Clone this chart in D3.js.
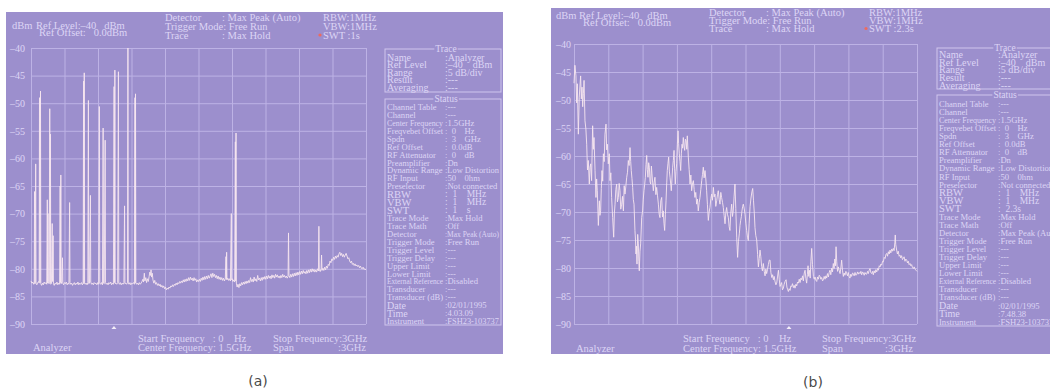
<!DOCTYPE html>
<html><head><meta charset="utf-8">
<script src="https://cdn.jsdelivr.net/npm/d3@7"></script>
<style>
html,body{margin:0;padding:0;background:#fff;}
svg{display:block;}
text{font-family:"Liberation Serif","Times New Roman",serif;white-space:pre;}
</style></head><body>
<svg id="c" width="1050" height="392"></svg>
<script>
// ---------------- DATA ----------------
const yTicks = [-40,-45,-50,-55,-60,-65,-70,-75,-80,-85,-90];
const yTickLabels = ["\u201340","\u201345","\u201350","\u201355","\u201360","\u201365","\u201370","\u201375","\u201380","\u201385","\u201390"];
const xGridMHz = [0,300,600,900,1200,1500,1800,2100,2400,2700,3000];

// trace (a): [frequency MHz, level dBm]
const traceA = [[0,-82.2],[8,-82.6],[16,-82.4],[24,-82.8],[29,-82.5],[32,-66],[35,-82.7],[38,-82.4],[42,-61],[45,-82.6],[52,-82.9],[60,-82.5],[68,-82.3],[73,-82.6],[76,-49],[79,-82.4],[82,-82.5],[85,-47.8],[88,-82.7],[95,-83.0],[103,-82.6],[110,-82.9],[118,-82.4],[126,-82.7],[134,-82.5],[141,-82.8],[146,-67.5],[149,-82.6],[152,-70],[155,-82.3],[162,-82.7],[168,-51],[171,-82.5],[174,-55.6],[177,-82.8],[183,-82.6],[190,-71.8],[193,-82.3],[198,-74],[201,-82.7],[208,-83.0],[216,-82.6],[224,-82.8],[232,-82.4],[240,-82.9],[248,-82.6],[256,-82.8],[261,-65],[264,-82.5],[267,-63],[270,-82.7],[276,-82.3],[282,-78],[285,-82.6],[292,-82.9],[300,-82.5],[308,-82.7],[316,-82.4],[324,-82.9],[332,-82.6],[340,-82.8],[346,-68],[349,-82.5],[356,-82.8],[364,-82.6],[372,-83.0],[380,-82.7],[388,-82.5],[396,-82.9],[404,-82.6],[412,-82.8],[420,-82.4],[428,-82.9],[436,-82.6],[444,-82.8],[452,-82.5],[460,-82.9],[467,-82.6],[471,-46],[474,-82.7],[477,-44.5],[480,-82.5],[486,-82.8],[494,-82.6],[502,-82.9],[509,-82.5],[514,-49.5],[517,-82.7],[524,-82.6],[532,-66.7],[535,-82.4],[542,-82.8],[550,-82.6],[558,-82.9],[566,-82.5],[574,-82.7],[582,-82.6],[590,-82.9],[598,-82.5],[606,-82.8],[612,-50.6],[616,-82.6],[624,-82.8],[632,-82.5],[640,-82.9],[646,-54.5],[649,-82.6],[656,-82.7],[664,-56.7],[667,-82.5],[674,-82.8],[682,-82.6],[690,-82.9],[698,-82.5],[706,-82.7],[714,-82.4],[722,-82.9],[730,-82.6],[738,-82.8],[744,-47],[747,-82.5],[751,-44],[754,-82.7],[760,-82.6],[768,-82.8],[776,-82.5],[783,-44.3],[786,-82.6],[792,-82.8],[800,-82.5],[808,-82.9],[816,-82.6],[824,-82.8],[832,-82.5],[838,-68.6],[841,-82.7],[848,-82.6],[856,-82.8],[864,-82.5],[868,-40],[871,-82.6],[878,-82.8],[886,-82.5],[894,-82.9],[902,-82.6],[910,-82.7],[918,-82.5],[926,-82.8],[931,-49],[933,-82.6],[936,-48.3],[939,-82.5],[946,-82.8],[954,-82.6],[962,-82.9],[970,-82.5],[978,-82.8],[986,-82.6],[994,-82.3],[1002,-81.9],[1008,-82.4],[1015,-80.8],[1020,-82.2],[1028,-81.6],[1035,-82.5],[1042,-81.8],[1050,-82.3],[1058,-81.4],[1064,-80.6],[1070,-81.2],[1075,-80.2],[1080,-81.5],[1086,-80.8],[1092,-82.0],[1100,-82.6],[1108,-82.1],[1116,-82.8],[1124,-82.5],[1132,-83.0],[1140,-82.7],[1148,-83.1],[1156,-82.8],[1164,-83.3],[1172,-83.0],[1180,-83.4],[1188,-83.1],[1196,-83.6],[1204,-83.3],[1212,-83.8],[1220,-83.5],[1228,-83.7],[1236,-83.3],[1244,-83.5],[1252,-83.1],[1260,-83.3],[1268,-82.9],[1276,-83.2],[1284,-82.8],[1292,-83.0],[1300,-82.6],[1308,-82.9],[1316,-82.5],[1324,-82.7],[1332,-82.3],[1340,-82.6],[1348,-82.2],[1356,-82.5],[1364,-82.0],[1372,-82.4],[1380,-81.9],[1388,-82.3],[1396,-81.8],[1404,-82.2],[1412,-81.6],[1420,-82.1],[1428,-81.5],[1436,-82.0],[1444,-81.7],[1452,-82.2],[1460,-81.6],[1468,-82.1],[1476,-81.8],[1484,-82.4],[1492,-82.0],[1500,-82.3],[1508,-81.9],[1516,-82.3],[1524,-81.7],[1532,-82.1],[1540,-81.5],[1548,-82.0],[1556,-81.4],[1564,-81.9],[1572,-81.3],[1580,-81.8],[1588,-81.2],[1596,-81.7],[1604,-81.3],[1612,-80.9],[1620,-81.6],[1628,-80.8],[1636,-81.4],[1644,-81.0],[1652,-81.6],[1660,-81.2],[1668,-81.8],[1676,-81.3],[1684,-81.9],[1692,-81.5],[1700,-82.0],[1708,-81.6],[1716,-82.1],[1724,-81.7],[1732,-82.2],[1740,-81.8],[1746,-77.8],[1749,-81.9],[1752,-77],[1755,-82.0],[1762,-81.7],[1770,-82.1],[1778,-81.8],[1786,-82.2],[1794,-70],[1797,-82.0],[1802,-81.8],[1808,-82.3],[1816,-82.0],[1824,-82.4],[1830,-57],[1833,-82.2],[1836,-55.4],[1839,-82.6],[1846,-83.3],[1854,-82.8],[1862,-83.4],[1870,-82.7],[1878,-83.1],[1886,-82.5],[1894,-82.9],[1902,-82.4],[1910,-82.8],[1918,-82.3],[1926,-82.7],[1934,-82.2],[1942,-82.6],[1950,-82.1],[1958,-82.5],[1966,-81.6],[1974,-82.3],[1982,-81.9],[1990,-82.4],[1998,-81.5],[2006,-82.2],[2014,-81.8],[2022,-82.3],[2030,-81.2],[2038,-82.0],[2046,-81.7],[2054,-82.2],[2062,-81.6],[2070,-82.1],[2078,-81.5],[2086,-81.9],[2094,-81.4],[2102,-81.9],[2110,-81.3],[2118,-81.8],[2126,-81.2],[2134,-81.7],[2142,-81.3],[2150,-81.8],[2158,-81.1],[2166,-81.6],[2174,-81.2],[2182,-81.7],[2190,-81.0],[2198,-81.5],[2206,-81.1],[2214,-81.6],[2222,-81.3],[2230,-81.7],[2238,-81.2],[2246,-81.6],[2254,-81.0],[2262,-81.5],[2270,-81.2],[2278,-81.6],[2286,-81.3],[2294,-81.7],[2302,-81.4],[2306,-73.5],[2310,-81.2],[2318,-81.6],[2326,-81.0],[2334,-81.5],[2342,-80.9],[2350,-81.4],[2358,-80.8],[2366,-81.3],[2374,-80.7],[2382,-81.2],[2390,-80.6],[2398,-81.1],[2406,-80.5],[2414,-81.0],[2422,-80.4],[2430,-80.9],[2438,-80.3],[2446,-80.8],[2454,-80.5],[2462,-80.9],[2470,-80.3],[2478,-80.8],[2486,-80.2],[2494,-80.7],[2502,-80.1],[2510,-80.6],[2518,-80.0],[2526,-80.5],[2534,-80.1],[2542,-80.6],[2550,-80.2],[2558,-80.6],[2566,-80.0],[2574,-80.4],[2578,-72.3],[2582,-80.2],[2590,-80.5],[2598,-80.0],[2602,-77.5],[2606,-80.3],[2614,-79.9],[2622,-80.3],[2630,-79.7],[2638,-80.2],[2646,-79.5],[2654,-79.9],[2662,-79.2],[2670,-79.4],[2678,-78.6],[2686,-78.9],[2694,-78.2],[2702,-78.5],[2710,-77.9],[2718,-78.3],[2726,-77.7],[2734,-78.1],[2742,-77.6],[2750,-77.9],[2758,-77.3],[2766,-77.0],[2774,-77.6],[2782,-77.2],[2790,-77.8],[2798,-77.4],[2806,-77.9],[2814,-77.5],[2822,-77.2],[2830,-77.7],[2838,-78.2],[2846,-78.0],[2854,-78.6],[2862,-78.9],[2870,-78.6],[2878,-79.2],[2886,-79.0],[2894,-79.4],[2902,-79.1],[2910,-79.5],[2918,-79.3],[2926,-79.6],[2934,-79.4],[2942,-79.8],[2950,-79.5],[2958,-79.9],[2966,-80.0],[2974,-79.7],[2982,-80.1],[2990,-80.0],[3000,-80.2]];

// trace (b): [frequency MHz, level dBm]
const traceB = [[0,-47.0],[8,-43.8],[17,-45.7],[23,-50.5],[29,-47.1],[38,-56.1],[46,-49.5],[52,-47.5],[58,-45.7],[64,-49.8],[70,-47.7],[76,-51.2],[82,-48.9],[88,-46.5],[96,-53.7],[104,-55.2],[111,-57.9],[118,-62.5],[125,-60.8],[134,-65.0],[140,-62.0],[146,-61.4],[154,-64.4],[163,-54.6],[169,-58.8],[175,-56.7],[184,-62.6],[192,-67.4],[198,-64.1],[204,-66.2],[213,-72.4],[222,-68.0],[227,-70.6],[233,-69.8],[239,-65.8],[245,-62.6],[251,-64.5],[257,-59.6],[264,-61.0],[271,-56.1],[280,-54.3],[286,-58.9],[292,-57.9],[300,-61.4],[309,-59.6],[315,-64.4],[322,-63.0],[329,-67.4],[338,-71.0],[347,-74.5],[353,-70.2],[359,-68.6],[366,-66.0],[373,-65.0],[380,-68.2],[388,-67.4],[395,-64.9],[402,-66.2],[409,-69.5],[417,-68.6],[424,-67.2],[432,-69.8],[439,-65.3],[446,-66.8],[453,-65.5],[461,-63.8],[468,-62.9],[475,-60.8],[482,-61.7],[490,-58.5],[496,-61.0],[501,-62.6],[507,-64.0],[513,-65.6],[519,-67.8],[525,-68.6],[533,-73.3],[538,-75.0],[542,-77.5],[546,-76.1],[551,-79.3],[557,-74.0],[563,-75.7],[567,-78.8],[571,-80.5],[577,-77.0],[583,-75.7],[588,-73.2],[592,-71.0],[600,-69.8],[606,-67.7],[612,-66.2],[618,-65.1],[624,-63.8],[630,-61.5],[636,-59.9],[641,-62.4],[647,-63.8],[653,-61.2],[659,-62.0],[665,-64.6],[671,-65.0],[677,-61.8],[682,-63.2],[688,-64.8],[694,-66.2],[701,-64.7],[708,-63.8],[716,-66.9],[723,-65.6],[730,-67.0],[738,-68.6],[745,-70.4],[752,-71.0],[759,-68.0],[767,-67.4],[774,-70.9],[781,-69.8],[787,-72.0],[793,-73.3],[799,-70.5],[805,-68.0],[811,-64.8],[816,-62.6],[822,-61.3],[828,-60.2],[834,-62.7],[840,-63.8],[846,-65.0],[851,-66.2],[857,-64.1],[863,-62.0],[869,-60.8],[875,-59.0],[880,-62.3],[886,-65.0],[892,-62.8],[898,-61.4],[904,-58.0],[910,-55.5],[915,-57.8],[921,-59.6],[927,-61.0],[933,-62.6],[939,-59.6],[945,-57.9],[950,-58.6],[956,-56.7],[962,-58.2],[968,-59.0],[974,-57.0],[980,-57.3],[986,-58.8],[991,-56.4],[1000,-60.2],[1007,-62.4],[1015,-65.0],[1022,-63.4],[1029,-66.2],[1036,-65.0],[1044,-64.4],[1051,-66.0],[1058,-67.4],[1065,-66.5],[1073,-68.6],[1080,-67.7],[1087,-69.8],[1095,-68.3],[1102,-67.4],[1109,-66.0],[1117,-64.4],[1124,-63.3],[1131,-62.0],[1138,-63.9],[1146,-62.6],[1153,-64.1],[1160,-66.2],[1167,-68.7],[1175,-71.5],[1182,-70.0],[1189,-69.2],[1197,-67.6],[1204,-66.8],[1211,-67.9],[1219,-65.6],[1226,-67.3],[1233,-66.8],[1240,-69.0],[1248,-68.0],[1255,-66.9],[1262,-66.2],[1270,-67.8],[1277,-68.6],[1284,-66.5],[1291,-67.4],[1299,-68.3],[1306,-69.2],[1313,-70.6],[1321,-72.1],[1328,-70.1],[1335,-69.2],[1342,-70.4],[1350,-71.0],[1357,-72.6],[1364,-73.3],[1371,-70.2],[1379,-68.6],[1386,-70.8],[1393,-69.8],[1400,-67.3],[1408,-65.0],[1415,-69.4],[1423,-74.5],[1431,-78.1],[1438,-75.3],[1446,-73.9],[1452,-72.4],[1458,-71.5],[1464,-70.8],[1469,-69.8],[1475,-69.0],[1481,-68.6],[1488,-69.3],[1496,-70.4],[1503,-72.0],[1510,-73.3],[1518,-74.6],[1525,-75.1],[1532,-72.0],[1540,-69.0],[1548,-67.5],[1556,-66.4],[1563,-65.8],[1570,-68.0],[1577,-70.2],[1583,-72.8],[1590,-74.2],[1598,-75.0],[1606,-77.6],[1613,-79.8],[1620,-78.3],[1627,-76.8],[1634,-78.0],[1641,-79.7],[1648,-80.5],[1656,-79.2],[1664,-80.6],[1671,-81.4],[1678,-80.2],[1685,-81.0],[1692,-80.3],[1700,-79.4],[1708,-78.6],[1715,-78.6],[1722,-80.8],[1730,-81.7],[1737,-81.2],[1744,-82.1],[1751,-81.5],[1758,-82.4],[1766,-83.0],[1773,-82.7],[1780,-81.6],[1788,-80.4],[1795,-82.0],[1802,-83.3],[1808,-83.0],[1816,-82.6],[1823,-83.9],[1831,-83.6],[1838,-82.9],[1846,-82.4],[1855,-82.1],[1862,-83.4],[1868,-83.8],[1875,-84.2],[1882,-83.7],[1890,-84.0],[1897,-83.2],[1904,-83.3],[1911,-82.8],[1919,-83.5],[1926,-83.1],[1933,-83.6],[1941,-82.9],[1948,-83.2],[1955,-82.5],[1963,-82.7],[1970,-82.0],[1977,-82.6],[1985,-81.8],[1992,-82.1],[1999,-81.4],[2006,-82.3],[2014,-80.9],[2021,-80.4],[2028,-81.9],[2035,-82.7],[2041,-81.2],[2047,-79.6],[2053,-81.5],[2059,-80.4],[2066,-81.8],[2072,-78.8],[2079,-76.5],[2086,-79.4],[2094,-81.5],[2101,-82.0],[2108,-81.6],[2116,-82.2],[2123,-82.4],[2130,-81.6],[2137,-82.0],[2145,-81.3],[2152,-81.5],[2159,-82.0],[2166,-81.7],[2174,-82.3],[2181,-82.1],[2188,-81.5],[2196,-82.0],[2203,-81.4],[2210,-81.8],[2217,-81.0],[2225,-81.6],[2232,-80.8],[2239,-80.4],[2246,-81.2],[2254,-80.0],[2261,-80.7],[2268,-79.2],[2275,-80.1],[2281,-78.4],[2287,-79.6],[2292,-76.2],[2298,-78.9],[2305,-80.6],[2312,-79.8],[2320,-80.5],[2327,-81.0],[2334,-80.0],[2341,-78.6],[2348,-80.4],[2356,-81.5],[2363,-80.9],[2370,-81.3],[2378,-80.6],[2385,-81.0],[2392,-81.4],[2399,-80.8],[2407,-81.6],[2414,-81.8],[2421,-81.1],[2428,-81.5],[2436,-80.9],[2443,-81.0],[2450,-81.4],[2458,-80.8],[2465,-81.3],[2472,-81.2],[2480,-80.7],[2487,-81.1],[2494,-80.8],[2502,-81.0],[2509,-80.6],[2516,-81.2],[2524,-80.7],[2531,-80.9],[2538,-81.3],[2545,-80.8],[2553,-81.1],[2560,-81.1],[2567,-80.6],[2574,-81.0],[2582,-80.4],[2589,-80.1],[2596,-80.8],[2604,-81.0],[2611,-80.6],[2618,-81.2],[2625,-80.5],[2633,-80.9],[2640,-80.3],[2648,-80.7],[2655,-80.1],[2662,-80.4],[2670,-79.6],[2677,-79.8],[2684,-79.3],[2691,-79.5],[2699,-78.8],[2706,-78.9],[2713,-78.1],[2721,-78.3],[2728,-77.6],[2735,-77.4],[2742,-77.9],[2750,-77.1],[2757,-77.5],[2764,-76.8],[2771,-77.3],[2779,-76.6],[2786,-77.0],[2793,-76.5],[2800,-76.9],[2806,-75.5],[2810,-74.1],[2814,-75.8],[2822,-76.8],[2829,-77.5],[2836,-77.0],[2844,-77.9],[2851,-77.7],[2858,-78.2],[2865,-77.8],[2873,-78.5],[2880,-78.3],[2887,-78.0],[2895,-78.8],[2902,-78.4],[2910,-78.6],[2917,-79.1],[2924,-78.8],[2931,-79.4],[2939,-79.2],[2946,-79.6],[2953,-79.4],[2960,-79.9],[2968,-80.1],[2975,-79.8],[2983,-80.2],[2991,-80.4],[3000,-80.6]];

const markerFreqA = 743;
const markerFreqB = 1880;

const headerLeftLines = ["Ref Level:\u201340   dBm", "Ref Offset:   0.0dBm"];
const headerMidLabels = ["Detector", "Trigger Mode", "Trace"];
const headerMidValues = [": Max Peak (Auto)", ": Free Run", ": Max Hold"];
const headerRightA = ["RBW:1MHz", "VBW:1MHz", "SWT :1s"];
const headerRightB = ["RBW:1MHz", "VBW:1MHz", "SWT :2.3s"];

const traceLabels = ["Name", "Ref Level", "Range", "Result", "Averaging"];
const traceValues = [":Analyzer", ":\u201340    dBm", ":5 dB/div", ":---", ":---"];

const statusLabels = ["Channel Table","Channel","Center Frequency","Freqvebet Offset","Spdn","Ref Offset","RF Attenuator","Preamplifier","Dynamic Range","RF Input","Preselector","RBW","VBW","SWT","Trace Mode","Trace Math","Detector","Trigger Mode","Trigger Level","Trigger Delay","Upper Limit","Lower Limit","External Reference","Transducer","Transducer (dB)","Date","Time","Instrument"];
const statusValuesA = [":---",":---",":1.5GHz",":  0    Hz",":  3    GHz",":  0.0dB",":  0    dB",":Dn",":Low Distortion",":50    0hm",":Not connected",":  1    MHz",":  1    MHz",":  1    s",":Max Hold",":Off",":Max Peak (Auto)",":Free Run",":---",":---",":---",":---",":Disabled",":---",":---",":02/01/1995",":4.03.09",":FSH23-103737"];
const statusValuesB = [":---",":---",":1.5GHz",":  0    Hz",":  3    GHz",":  0.0dB",":  0    dB",":Dn",":Low Distortion",":50    0hm",":Not connected",":  1    MHz",":  1    MHz",":  2.3s",":Max Hold",":Off",":Max Peak (Auto)",":Free Run",":---",":---",":---",":---",":Disabled",":---",":---",":02/01/1995",":7.48.38",":FSH23-103737"];
const bigRows = ["RBW","VBW","SWT"];
const midRows = ["Date","Time"];

const footerStart = ["Start Frequency   : 0    Hz", "Center Frequency: 1.5GHz"];
const footerStop = ["Stop Frequency:3GHz", "Span"];
const footerSpanValue = ":3GHz";
const captions = ["(a)", "(b)"];

// ---------------- STYLE ----------------
const BG = "#9c8fcd", GRID = "#bdb2e5", TXT = "#ddd5f5", TRACE = "#f6e6ef", BOX = "#cfc6ee";

const svg = d3.select("#c");

function drawPanel(cfg, trace, rightHdr, statusVals, markerFreq, caption) {
  const g = svg.append("g");
  g.append("rect").attr("x", cfg.bg[0]).attr("y", cfg.bg[1]).attr("width", cfg.bg[2]).attr("height", cfg.bg[3]).attr("fill", BG);

  const x = d3.scaleLinear().domain([0, 3000]).range([cfg.px0, cfg.px1]);
  const y = d3.scaleLinear().domain([-90, -40]).range([cfg.pyB, cfg.pyT]);

  // horizontal grid + y labels
  const yAx = d3.axisLeft(y).tickValues(yTicks).tickSize(-(cfg.px1 - cfg.px0)).tickPadding(cfg.px0 - cfg.ylabR)
    .tickFormat((d, i) => yTickLabels[i]);
  const ya = g.append("g").attr("transform", `translate(${cfg.px0},0)`).call(yAx);
  ya.select(".domain").remove();
  ya.selectAll("line").attr("stroke", GRID).attr("stroke-width", 1);
  ya.selectAll("text").attr("fill", TXT).style("font-size", "10px").style("font-family", '"Liberation Serif", serif');

  // vertical grid
  const xAx = d3.axisBottom(x).tickValues(xGridMHz).tickSize(-(cfg.pyB - cfg.pyT)).tickFormat("");
  const xa = g.append("g").attr("transform", `translate(0,${cfg.pyB})`).call(xAx);
  xa.select(".domain").remove();
  xa.selectAll("line").attr("stroke", GRID).attr("stroke-width", 1);

  // trace
  const line = d3.line().x(d => x(d[0])).y(d => y(d[1]));
  g.append("path").datum(trace).attr("d", line).attr("fill", "none").attr("stroke", TRACE)
    .attr("stroke-width", 1).attr("stroke-opacity", 0.9).attr("stroke-linejoin", "round");

  // marker triangle
  const mx = x(markerFreq), my = cfg.pyB + 2;
  g.append("path").attr("d", `M${mx - 2.5},${my + 3} L${mx + 2.5},${my + 3} L${mx},${my} Z`).attr("fill", "#f4eef8");

  const T = (xx, yy, s, size, anchor) => g.append("text").attr("x", xx).attr("y", yy).text(s)
    .attr("fill", TXT).style("font-size", size + "px").attr("dominant-baseline", "central")
    .attr("text-anchor", anchor || "start");
  const fit = (t, maxW) => {
    const w = t.node().getComputedTextLength();
    if (w > maxW) t.attr("textLength", maxW).attr("lengthAdjust", "spacingAndGlyphs");
    return t;
  };

  // header
  T(cfg.dbmX, cfg.hl[0], "dBm", 10.5);
  T(cfg.refX[0], cfg.hl[0], headerLeftLines[0], 10.5);
  T(cfg.refX[1], cfg.hl[1], headerLeftLines[1], 10.5);
  headerMidLabels.forEach((s, i) => {
    const t = T(cfg.midX, cfg.hm[i], s, 10.5);
    const w = t.node().getComputedTextLength();
    T(Math.max(cfg.midX + 57, cfg.midX + w), cfg.hm[i], headerMidValues[i], 10.5);
  });
  rightHdr.forEach((s, i) => T(cfg.rightX, cfg.hm[i], s, 10.5));
  g.append("circle").attr("cx", cfg.rightX - 3).attr("cy", cfg.hm[2]).attr("r", 1.6).attr("fill", "#ee6a5e");

  // side panel boxes
  const sb = (top, bot, title, tx) => {
    g.append("rect").attr("x", cfg.sideX).attr("y", top).attr("width", cfg.sideW).attr("height", bot - top)
      .attr("fill", "none").attr("stroke", BOX).attr("stroke-width", 1);
    const t = T(tx, top, title, 9.5, "middle");
    const bb = t.node().getBBox();
    g.insert("rect", () => t.node()).attr("x", bb.x - 1).attr("y", top - 2).attr("width", bb.width + 2).attr("height", 4).attr("fill", BG);
  };
  const labW = cfg.valX - cfg.sideX - 4;
  sb(cfg.tb[0], cfg.tb[1], "Trace", cfg.titleX);
  traceLabels.forEach((s, i) => {
    fit(T(cfg.sideX + 2, cfg.tr0 + i * cfg.trS, s, 10), labW);
    T(cfg.valX, cfg.tr0 + i * cfg.trS, traceValues[i], 10);
  });
  sb(cfg.st[0], cfg.st[1], "Status", cfg.titleX);
  statusLabels.forEach((s, i) => {
    const fs = bigRows.includes(s) ? 10.5 : (midRows.includes(s) ? 10 : 8.6);
    fit(T(cfg.sideX + 2, cfg.sr0 + i * cfg.srS, s, fs), labW);
    const v = T(cfg.valX, cfg.sr0 + i * cfg.srS, statusVals[i], bigRows.includes(s) ? 9.5 : 8.6);
    if (cfg.fitVals) fit(v, cfg.sideX + cfg.sideW - cfg.valX - 2);
  });

  // footer
  T(cfg.anX, cfg.fy[1], "Analyzer", 10.5);
  T(cfg.startX, cfg.fy[0], footerStart[0], 10.5);
  T(cfg.startX, cfg.fy[1], footerStart[1], 10.5);
  T(cfg.stopX, cfg.fy[0], footerStop[0], 10.5);
  T(cfg.stopX, cfg.fy[1], footerStop[1], 10.5);
  T(cfg.spanEnd, cfg.fy[1], footerSpanValue, 10.5, "end");

  // caption
  svg.append("text").attr("x", cfg.capX).attr("y", cfg.capY).text(caption).attr("text-anchor", "middle")
    .attr("dominant-baseline", "central").attr("fill", "#4a4a4a")
    .style("font-family", '"DejaVu Sans", sans-serif').style("font-size", "14px");
}

const cfgA = {bg:[6,12,497,342], px0:31, px1:366, pyT:48, pyB:324, ylabR:25,
  dbmX:12, refX:[36,39], hl:[25,32.5], midX:165, hm:[17.3,26,35], rightX:323,
  sideX:385, sideW:116, titleX:446, valX:445, tb:[49,92], tr0:57, trS:7.5, st:[99,325], sr0:107, srS:7.93,
  anX:33, startX:138, stopX:273, spanEnd:366, fy:[338,347], capX:258, capY:381, fitVals:true};
const cfgB = {bg:[551,8,499,346], px0:574, px1:917, pyT:44, pyB:324, ylabR:571,
  dbmX:556, refX:[579,583], hl:[15,22.7], midX:709, hm:[12.7,20.7,28.5], rightX:869,
  sideX:937, sideW:140, titleX:1005, valX:998, tb:[48,89], tr0:54.5, trS:7.7, st:[95,326], sr0:104, srS:8.06,
  anX:576, startX:683, stopX:822, spanEnd:913, fy:[338,348], capX:813, capY:382, fitVals:false};

drawPanel(cfgA, traceA, headerRightA, statusValuesA, markerFreqA, captions[0]);
drawPanel(cfgB, traceB, headerRightB, statusValuesB, markerFreqB, captions[1]);
</script>
</body></html>
